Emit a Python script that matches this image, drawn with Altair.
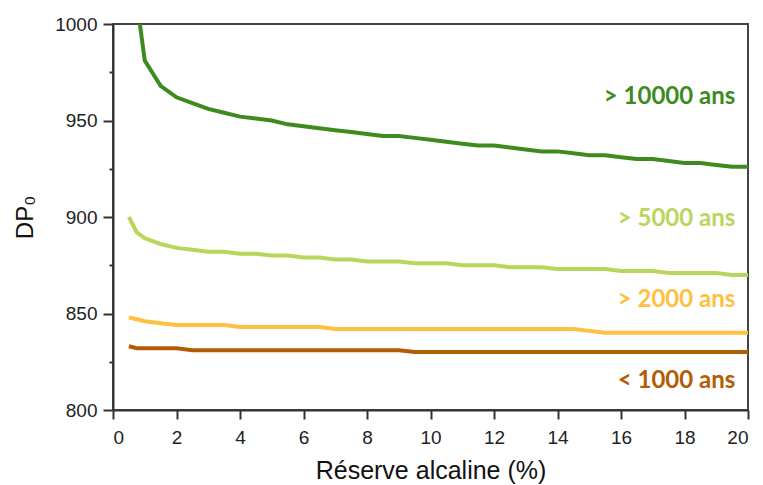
import altair as alt
import pandas as pd

x_vals = [0.5, 0.75, 1, 1.5, 2, 2.5, 3, 3.5, 4, 4.5, 5, 5.5, 6, 6.5, 7, 7.5, 8, 8.5, 9, 9.5,
          10, 10.5, 11, 11.5, 12, 12.5, 13, 13.5, 14, 14.5, 15, 15.5, 16, 16.5, 17, 17.5,
          18, 18.5, 19, 19.5, 20]

dp_10000 = [1060, 1012, 981, 968, 962, 959, 956, 954, 952, 951, 950, 948, 947, 946, 945, 944,
            943, 942, 942, 941, 940, 939, 938, 937, 937, 936, 935, 934, 934, 933, 932, 932,
            931, 930, 930, 929, 928, 928, 927, 926, 926]
dp_5000 = [900, 892, 889, 886, 884, 883, 882, 882, 881, 881, 880, 880, 879, 879, 878, 878,
           877, 877, 877, 876, 876, 876, 875, 875, 875, 874, 874, 874, 873, 873, 873, 873,
           872, 872, 872, 871, 871, 871, 871, 870, 870]
dp_2000 = [848, 847, 846, 845, 844, 844, 844, 844, 843, 843, 843, 843, 843, 843, 842, 842,
           842, 842, 842, 842, 842, 842, 842, 842, 842, 842, 842, 842, 842, 842, 841, 840,
           840, 840, 840, 840, 840, 840, 840, 840, 840]
dp_1000 = [833, 832, 832, 832, 832, 831, 831, 831, 831, 831, 831, 831, 831, 831, 831, 831,
           831, 831, 831, 830, 830, 830, 830, 830, 830, 830, 830, 830, 830, 830, 830, 830,
           830, 830, 830, 830, 830, 830, 830, 830, 830]

series_names = ["> 10000 ans", "> 5000 ans", "> 2000 ans", "< 1000 ans"]
series_colors = ["#3d8b1f", "#b8d65b", "#ffc040", "#b45c05"]
label_text = [">  10000 ans", ">  5000 ans", ">  2000 ans", "<  1000 ans"]
label_x = [19.6, 19.6, 19.6, 19.6]
label_y = [962, 899, 857, 815]

rows = []
for name, vals in zip(series_names, [dp_10000, dp_5000, dp_2000, dp_1000]):
    for xv, yv in zip(x_vals, vals):
        rows.append({"x": xv, "y": yv, "serie": name})
df = pd.DataFrame(rows)

lab = pd.DataFrame({"serie": series_names, "txt": label_text, "x": label_x, "y": label_y})

color_scale = alt.Scale(domain=series_names, range=series_colors)

x_scale = alt.Scale(domain=[0, 20], nice=False, zero=False)
y_scale = alt.Scale(domain=[800, 1000], nice=False, zero=False)

x_axis = alt.Axis(
    title="Réserve alcaline (%)",
    values=list(range(0, 21)),
    labelExpr="datum.value % 2 == 0 ? datum.label : ''",
    tickSize={"condition": {"test": "datum.value % 2 == 0", "value": 9}, "value": 4},
    labelPadding=9,
    titlePadding=11,
    titleFontSize=25,
)
y_axis = alt.Axis(
    title="DP₀",
    values=[800, 825, 850, 875, 900, 925, 950, 975, 1000],
    labelExpr="datum.value % 50 == 0 ? datum.label : ''",
    tickSize={"condition": {"test": "datum.value % 50 == 0", "value": 10}, "value": 4},
    labelPadding=6,
    titlePadding=17,
    titleFontSize=24,
    format="d",
)

lines = alt.Chart(df).mark_line(clip=True, strokeWidth=4).encode(
    x=alt.X("x:Q", scale=x_scale, axis=x_axis),
    y=alt.Y("y:Q", scale=y_scale, axis=y_axis),
    color=alt.Color("serie:N", scale=color_scale, legend=None),
    detail="serie:N",
)

labels = alt.Chart(lab).mark_text(
    align="right", baseline="middle", fontSize=24, fontWeight="bold", font="Lato"
).encode(
    x=alt.X("x:Q", scale=x_scale),
    y=alt.Y("y:Q", scale=y_scale),
    text="txt:N",
    color=alt.Color("serie:N", scale=color_scale, legend=None),
)

chart = (lines + labels).properties(
    width=635, height=386,
    padding={"left": 5, "top": 7, "right": 5, "bottom": 5},
).configure_view(
    stroke="#444", strokeWidth=2
).configure_axis(
    grid=False,
    domainColor="#333",
    domainWidth=2,
    tickColor="#333",
    tickWidth=2,
    labelFont="Liberation Sans",
    labelFontSize=19,
    labelColor="#222",
    titleFont="Liberation Sans",
    titleFontWeight="normal",
    titleColor="#111",
)

chart.save("out.html", embed_options={"renderer": "svg", "actions": False})
